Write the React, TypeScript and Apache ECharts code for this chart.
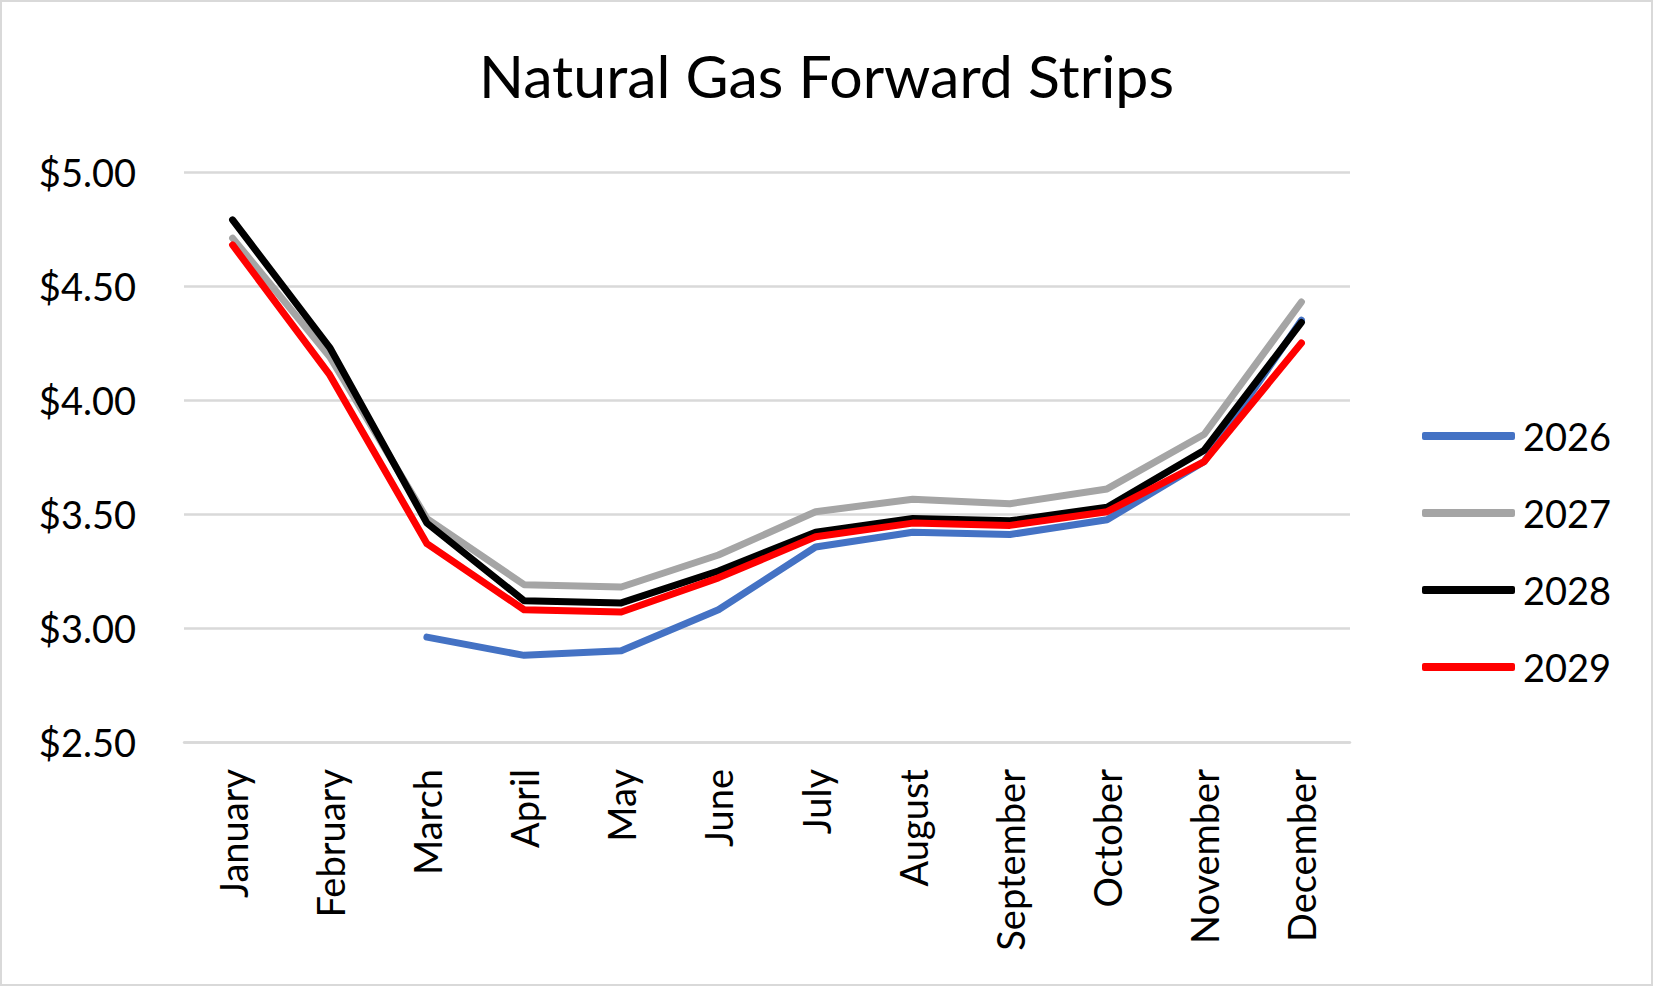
import React, { useEffect, useRef } from "react";
import * as echarts from "echarts";

const months = ["January", "February", "March", "April", "May", "June", "July", "August", "September", "October", "November", "December"];
const seriesNames = ["2026", "2027", "2028", "2029"];
const colors = ["#4472C4", "#A5A5A5", "#000000", "#FF0000"];
const s2026 = [null, null, 2.96, 2.88, 2.9, 3.08, 3.355, 3.42, 3.41, 3.475, 3.73, 4.35];
const s2027 = [4.71, 4.19, 3.48, 3.19, 3.18, 3.32, 3.51, 3.565, 3.545, 3.61, 3.85, 4.43];
const s2028 = [4.79, 4.23, 3.46, 3.12, 3.11, 3.25, 3.42, 3.48, 3.47, 3.53, 3.78, 4.34];
const s2029 = [4.68, 4.11, 3.37, 3.08, 3.07, 3.22, 3.4, 3.46, 3.45, 3.51, 3.73, 4.25];
const allSeries = [s2026, s2027, s2028, s2029];
const yMin = 2.5;
const yMax = 5;
const yStep = 0.5;

const FONT = "Lato, 'Open Sans', sans-serif";

export default function App() {
  const ref = useRef<HTMLDivElement>(null);
  useEffect(() => {
    if (!ref.current) return;
    const chart = echarts.init(ref.current, null, { renderer: "svg" });
    chart.setOption({
      animation: false,
      backgroundColor: "#ffffff",
      textStyle: { fontFamily: FONT },
      title: {
        text: "Natural Gas Forward Strips",
        left: "center",
        top: 39,
        textStyle: { fontFamily: FONT, fontSize: 59, fontWeight: "normal", color: "#000" },
      },
      grid: { left: 182, right: 301, top: 170, bottom: 242, containLabel: false },
      legend: {
        orient: "vertical",
        left: 1415,
        top: 409,
        itemWidth: 93,
        itemHeight: 8,
        itemGap: 37,
        icon: "roundRect",
        data: seriesNames,
        textStyle: { fontFamily: FONT, fontSize: 38, color: "#000", lineHeight: 40, padding: [0, 0, 0, 3] },
      },
      xAxis: {
        type: "category",
        data: months,
        boundaryGap: true,
        axisLine: { show: true, lineStyle: { color: "#d9d9d9", width: 2.5 } },
        axisTick: { show: false },
        axisLabel: { rotate: 90, margin: 27, fontFamily: FONT, fontSize: 38, color: "#000", interval: 0 },
      },
      yAxis: {
        type: "value",
        min: yMin,
        max: yMax,
        interval: yStep,
        axisLine: { show: false },
        axisTick: { show: false },
        splitLine: { lineStyle: { color: "#d9d9d9", width: 2.5 } },
        axisLabel: {
          margin: 48,
          fontFamily: FONT,
          fontSize: 38,
          color: "#000",
          formatter: (v: number) => "$" + v.toFixed(2),
        },
      },
      series: allSeries.map((d, i) => ({
        name: seriesNames[i],
        type: "line",
        data: d.map((v) => (v === null ? "-" : v)),
        symbol: "none",
        color: colors[i],
        lineStyle: { color: colors[i], width: 7, cap: "round", join: "round" },
        itemStyle: { color: colors[i] },
      })),
    });
    return () => chart.dispose();
  }, []);
  return (
    <div
      ref={ref}
      style={{
        position: "absolute",
        left: 0,
        top: 0,
        width: 1653,
        height: 986,
        boxSizing: "border-box",
        border: "2px solid #d9d9d9",
        background: "#fff",
      }}
    />
  );
}
